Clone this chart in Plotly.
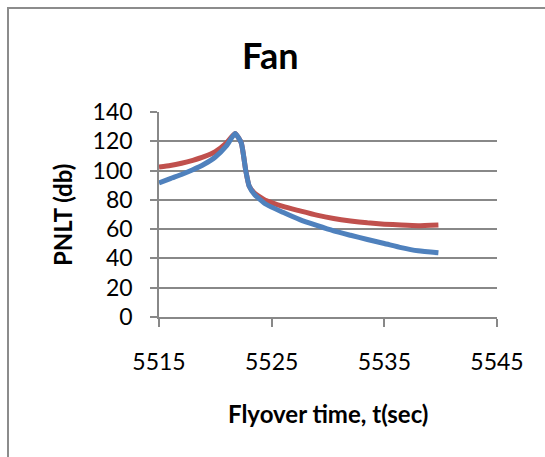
import plotly.graph_objects as go

# Flyover noise (PNLT) for the fan component
t_red = [5515, 5516, 5517, 5518, 5519, 5520, 5521, 5521.75, 5522.3, 5522.7, 5523.0,
         5523.5, 5524.5, 5526, 5527.5, 5529, 5530.5, 5532, 5533.5, 5535, 5536.5, 5538, 5539.8]
pnlt_red = [102.5, 103.5, 105, 107, 109.5, 113, 119, 125.3, 119, 100, 89.5,
            84.5, 79.5, 75.5, 72.5, 69.6, 67.3, 65.6, 64.3, 63.4, 62.8, 62.4, 62.9]

t_blue = [5515, 5516, 5517, 5518, 5519, 5520, 5521, 5521.75, 5522.3, 5522.7, 5523.0,
          5523.5, 5524.5, 5526, 5527.5, 5529, 5530.5, 5532, 5533.5, 5535, 5536.5, 5538, 5539.8]
pnlt_blue = [91.5, 94.5, 97.3, 100.5, 104.3, 109.3, 117, 125.3, 119, 100, 89.5,
             83.5, 77, 71.5, 66.5, 62.5, 58.8, 55.8, 52.9, 50.2, 47.4, 45.2, 43.8]

x_ticks = [5515, 5525, 5535, 5545]
y_ticks = [0, 20, 40, 60, 80, 100, 120, 140]

W, H = 545, 457
ML, MR, MT, MB = 159, 48, 112, 140
FONT = "Lato"
GRID = "#888888"

fig = go.Figure()
fig.add_trace(go.Scatter(x=t_red, y=pnlt_red, mode="lines",
                         line=dict(color="#C0504D", width=5, shape="spline", smoothing=0.45),
                         showlegend=False))
fig.add_trace(go.Scatter(x=t_blue, y=pnlt_blue, mode="lines",
                         line=dict(color="#4F81BD", width=5, shape="spline", smoothing=0.45),
                         showlegend=False))

pw, ph = W - ML - MR, H - MT - MB


def px(x):
    return (x - ML) / pw


def py(y):
    return 1 - (y - MT) / ph


fig.update_layout(
    width=W, height=H,
    margin=dict(l=ML, r=MR, t=MT, b=MB),
    paper_bgcolor="white", plot_bgcolor="white",
    font=dict(family=FONT, color="black", size=23),
    xaxis=dict(range=[5515, 5545], tickvals=x_ticks, ticktext=[str(v) for v in x_ticks],
               showgrid=False, zeroline=False, showline=True, linecolor=GRID, linewidth=1.5,
               ticks="outside", ticklen=8, tickwidth=1.5, tickcolor=GRID,
               ticklabelstandoff=16, tickfont=dict(size=23)),
    yaxis=dict(range=[0, 140], tickvals=y_ticks, showgrid=True, gridcolor=GRID, gridwidth=1.5,
               zeroline=False, showline=True, linecolor=GRID, linewidth=1.5,
               ticks="outside", ticklen=7, tickwidth=1.5, tickcolor=GRID,
               ticklabelstandoff=13, tickfont=dict(size=23)),
    annotations=[
        dict(text="<b>Fan</b>", x=px(270), y=py(55), xref="paper", yref="paper",
             showarrow=False, font=dict(size=36), xanchor="center", yanchor="middle"),
        dict(text="<b>Flyover time, t(sec)</b>", x=px(328), y=py(413), xref="paper", yref="paper",
             showarrow=False, font=dict(size=24), xanchor="center", yanchor="middle"),
        dict(text="<b>PNLT (db)</b>", x=px(62), y=py(215), xref="paper", yref="paper",
             showarrow=False, font=dict(size=24), textangle=-90,
             xanchor="center", yanchor="middle"),
    ],
    shapes=[
        dict(type="rect", xref="paper", yref="paper",
             x0=px(8), x1=px(W + 20), y0=py(8), y1=py(H + 20),
             line=dict(color="#8C8C8C", width=2), fillcolor="rgba(0,0,0,0)", layer="below"),
    ],
)

fig.write_html("out.html")
